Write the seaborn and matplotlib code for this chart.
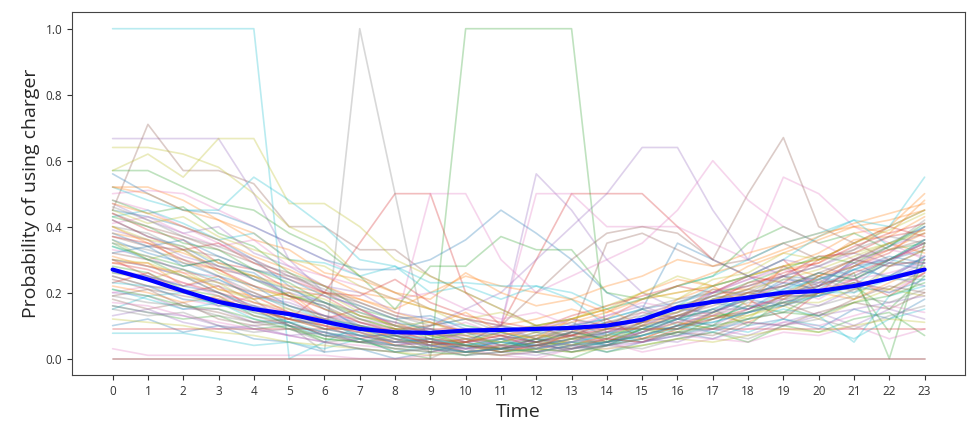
import numpy as np
import pandas as pd
import matplotlib
matplotlib.use("Agg")
import matplotlib.pyplot as plt
import seaborn as sns

# hours of the day
hours = list(range(24))

# per-charger hourly usage probability (a subset of the chargers)
c00 = [0.45,0.43,0.40,0.36,0.30,0.22,0.15,0.10,0.08,0.10,0.12,0.10,0.08,0.10,0.12,0.15,0.17,0.20,0.22,0.25,0.24,0.28,0.30,0.33]
c01 = [0.52,0.52,0.48,0.42,0.38,0.30,0.25,0.20,0.18,0.15,0.12,0.10,0.12,0.15,0.12,0.18,0.20,0.22,0.25,0.28,0.32,0.38,0.40,0.50]
c02 = [0.35,0.30,0.25,0.20,0.15,0.10,0.05,0.03,0.02,0.00,1.00,1.00,1.00,1.00,0.05,0.10,0.12,0.15,0.10,0.18,0.20,0.22,0.15,0.25]
c03 = [0.30,0.25,0.20,0.18,0.15,0.12,0.20,0.35,0.50,0.50,0.20,0.10,0.30,0.50,0.50,0.50,0.40,0.30,0.25,0.30,0.20,0.28,0.32,0.40]
c04 = [0.667,0.667,0.667,0.667,0.50,0.30,0.20,0.15,0.10,0.08,0.05,0.10,0.56,0.45,0.30,0.20,0.15,0.20,0.25,0.30,0.28,0.25,0.30,0.35]
c05 = [0.45,0.71,0.57,0.57,0.53,0.40,0.40,0.33,0.33,0.25,0.20,0.15,0.10,0.08,0.35,0.38,0.33,0.28,0.30,0.35,0.30,0.33,0.40,0.45]
c06 = [0.50,0.51,0.50,0.45,0.40,0.35,0.30,0.25,0.20,0.15,0.12,0.10,0.50,0.50,0.40,0.40,0.40,0.35,0.30,0.55,0.50,0.40,0.35,0.30]
c07 = [0.30,0.28,0.25,0.22,0.18,0.10,0.02,1.00,0.50,0.00,0.05,0.10,0.08,0.12,0.10,0.15,0.12,0.18,0.20,0.22,0.25,0.20,0.28,0.30]
c08 = [0.64,0.64,0.62,0.58,0.50,0.40,0.35,0.25,0.20,0.15,0.10,0.08,0.10,0.12,0.15,0.20,0.25,0.22,0.25,0.28,0.30,0.32,0.35,0.38]
c09 = [1.00,1.00,1.00,1.00,1.00,0.00,0.05,0.10,0.08,0.12,0.10,0.08,0.05,0.10,0.12,0.15,0.10,0.18,0.15,0.20,0.25,0.22,0.30,0.28]
c10 = [0.56,0.50,0.45,0.44,0.40,0.35,0.30,0.27,0.27,0.30,0.36,0.45,0.38,0.30,0.20,0.15,0.35,0.30,0.25,0.20,0.22,0.30,0.35,0.40]
c11 = [0.40,0.35,0.32,0.28,0.25,0.22,0.20,0.18,0.15,0.20,0.25,0.22,0.20,0.18,0.22,0.25,0.30,0.28,0.32,0.35,0.38,0.40,0.42,0.45]
c12 = [0.57,0.57,0.52,0.47,0.45,0.38,0.33,0.25,0.15,0.28,0.28,0.37,0.33,0.33,0.20,0.18,0.22,0.25,0.35,0.40,0.35,0.38,0.33,0.35]
c13 = [0.0] * 24
c14 = [0.30,0.28,0.25,0.20,0.15,0.10,0.08,0.05,0.05,0.10,0.15,0.20,0.30,0.40,0.50,0.64,0.64,0.45,0.30,0.25,0.20,0.22,0.25,0.30]
c15 = [0.25,0.22,0.20,0.18,0.15,0.12,0.10,0.08,0.05,0.05,0.08,0.10,0.20,0.30,0.38,0.40,0.38,0.30,0.50,0.67,0.40,0.35,0.30,0.35]
c16 = [0.48,0.45,0.40,0.35,0.30,0.25,0.20,0.15,0.10,0.50,0.50,0.30,0.20,0.25,0.30,0.35,0.45,0.60,0.48,0.40,0.35,0.30,0.28,0.30]
c17 = [0.35,0.33,0.30,0.25,0.20,0.15,0.12,0.10,0.08,0.05,0.05,0.08,0.10,0.12,0.10,0.15,0.18,0.20,0.20,0.25,0.22,0.25,0.30,0.35]
c18 = [0.57,0.62,0.55,0.667,0.667,0.47,0.47,0.40,0.30,0.25,0.20,0.15,0.10,0.12,0.15,0.18,0.20,0.22,0.25,0.28,0.30,0.35,0.40,0.45]
c19 = [0.52,0.48,0.45,0.45,0.55,0.48,0.40,0.30,0.28,0.23,0.23,0.22,0.22,0.20,0.15,0.18,0.22,0.25,0.30,0.35,0.38,0.42,0.40,0.55]
c20 = [0.42,0.37,0.34,0.28,0.26,0.19,0.16,0.09,0.06,0.04,0.02,0.06,0.07,0.11,0.07,0.13,0.14,0.19,0.18,0.24,0.23,0.29,0.24,0.31]
c21 = [0.38,0.36,0.29,0.27,0.21,0.19,0.11,0.09,0.04,0.05,0.02,0.03,0.02,0.06,0.07,0.11,0.14,0.21,0.21,0.27,0.29,0.36,0.37,0.43]
c22 = [0.28,0.26,0.21,0.19,0.13,0.11,0.07,0.06,0.02,0.03,0.01,0.04,0.04,0.05,0.05,0.09,0.09,0.13,0.14,0.19,0.19,0.26,0.00,0.35]
c23 = [0.44,0.39,0.36,0.29,0.27,0.21,0.19,0.13,0.11,0.07,0.07,0.04,0.07,0.07,0.11,0.11,0.16,0.17,0.23,0.25,0.31,0.32,0.37,0.39]
c24 = [0.20,0.19,0.15,0.15,0.11,0.11,0.07,0.07,0.04,0.05,0.03,0.06,0.05,0.08,0.07,0.11,0.11,0.15,0.15,0.19,0.19,0.23,0.24,0.29]
c25 = [0.37,0.34,0.33,0.27,0.25,0.19,0.16,0.11,0.09,0.05,0.06,0.03,0.06,0.05,0.09,0.09,0.13,0.14,0.19,0.19,0.23,0.24,0.29,0.29]
c26 = [0.33,0.31,0.26,0.25,0.19,0.18,0.13,0.12,0.08,0.08,0.05,0.06,0.05,0.08,0.08,0.12,0.12,0.17,0.18,0.23,0.24,0.29,0.30,0.35]
c27 = [0.25,0.22,0.21,0.16,0.16,0.12,0.11,0.07,0.07,0.04,0.06,0.05,0.08,0.07,0.10,0.09,0.13,0.13,0.17,0.17,0.21,0.21,0.25,0.25]
c28 = [0.30,0.29,0.25,0.23,0.17,0.15,0.09,0.09,0.05,0.05,0.02,0.04,0.03,0.06,0.05,0.09,0.09,0.13,0.13,0.17,0.17,0.21,0.21,0.26]
c29 = [0.15,0.19,0.20,0.16,0.16,0.11,0.11,0.07,0.07,0.04,0.05,0.02,0.05,0.04,0.08,0.08,0.12,0.12,0.16,0.16,0.20,0.20,0.24,0.24]
c30 = [0.10,0.12,0.08,0.10,0.06,0.05,0.02,0.03,0.00,0.02,0.05,0.03,0.06,0.04,0.02,0.05,0.08,0.06,0.10,0.12,0.09,0.15,0.12,0.18]
c31 = [0.29,0.29,0.22,0.25,0.18,0.20,0.12,0.15,0.09,0.10,0.14,0.08,0.06,0.12,0.15,0.10,0.18,0.22,0.16,0.28,0.25,0.30,0.35,0.32]
c32 = [0.48,0.44,0.46,0.38,0.34,0.26,0.22,0.15,0.12,0.08,0.04,0.06,0.02,0.00,0.04,0.08,0.12,0.10,0.18,0.22,0.26,0.24,0.30,0.36]
c33 = [0.23,0.26,0.20,0.22,0.15,0.12,0.10,0.06,0.08,0.04,0.05,0.07,0.03,0.08,0.12,0.06,0.10,0.14,0.18,0.12,0.20,0.24,0.19,0.26]
c34 = [0.47,0.42,0.38,0.40,0.32,0.28,0.22,0.20,0.14,0.12,0.08,0.10,0.06,0.09,0.13,0.16,0.12,0.20,0.24,0.28,0.22,0.30,0.34,0.38]
c35 = [0.18,0.15,0.17,0.12,0.10,0.11,0.07,0.05,0.06,0.02,0.04,0.03,0.06,0.10,0.05,0.08,0.11,0.09,0.14,0.17,0.13,0.18,0.22,0.20]
c36 = [0.03,0.01,0.01,0.01,0.01,0.01,0.01,0.00,0.00,0.01,0.02,0.01,0.00,0.03,0.05,0.02,0.04,0.06,0.05,0.08,0.07,0.10,0.06,0.09]
c37 = [0.40,0.38,0.33,0.31,0.27,0.25,0.22,0.17,0.13,0.10,0.12,0.08,0.10,0.06,0.04,0.08,0.12,0.15,0.20,0.18,0.24,0.28,0.34,0.42]
c38 = [0.36,0.30,0.33,0.26,0.22,0.18,0.20,0.14,0.10,0.11,0.07,0.05,0.08,0.04,0.07,0.10,0.08,0.14,0.12,0.20,0.24,0.18,0.28,0.33]
c39 = [0.077,0.077,0.077,0.06,0.04,0.05,0.03,0.06,0.02,0.04,0.03,0.05,0.04,0.06,0.08,0.05,0.07,0.10,0.08,0.12,0.10,0.06,0.12,0.15]
c40 = [0.32,0.34,0.28,0.30,0.24,0.21,0.17,0.14,0.11,0.09,0.06,0.08,0.05,0.07,0.04,0.09,0.13,0.17,0.15,0.21,0.26,0.24,0.29,0.27]
c41 = [0.52,0.50,0.45,0.42,0.36,0.33,0.26,0.24,0.20,0.18,0.26,0.20,0.16,0.18,0.14,0.20,0.24,0.22,0.28,0.32,0.36,0.40,0.38,0.48]
c42 = [0.16,0.14,0.12,0.13,0.09,0.10,0.06,0.05,0.07,0.03,0.04,0.02,0.03,0.05,0.02,0.04,0.06,0.08,0.05,0.10,0.08,0.12,0.14,0.07]
c43 = [0.42,0.37,0.33,0.35,0.29,0.24,0.20,0.19,0.24,0.17,0.13,0.11,0.09,0.13,0.16,0.19,0.22,0.20,0.25,0.23,0.30,0.35,0.40,0.37]
c44 = [0.13,0.15,0.11,0.09,0.10,0.07,0.08,0.05,0.04,0.06,0.02,0.03,0.05,0.02,0.04,0.06,0.05,0.09,0.07,0.11,0.14,0.10,0.15,0.12]
c45 = [0.44,0.40,0.37,0.33,0.29,0.26,0.20,0.17,0.13,0.11,0.08,0.06,0.09,0.07,0.11,0.14,0.12,0.18,0.21,0.19,0.25,0.30,0.33,0.36]
c46 = [0.20,0.22,0.18,0.16,0.19,0.14,0.12,0.15,0.10,0.08,0.11,0.07,0.09,0.12,0.08,0.14,0.16,0.13,0.19,0.22,0.18,0.24,0.20,0.26]
c47 = [0.0] * 24
c48 = [0.26,0.24,0.27,0.21,0.18,0.20,0.15,0.12,0.09,0.07,0.05,0.08,0.06,0.09,0.05,0.07,0.11,0.09,0.13,0.16,0.12,0.17,0.21,0.19]
c49 = [0.43,0.45,0.41,0.36,0.38,0.30,0.29,0.25,0.28,0.20,0.22,0.18,0.22,0.18,0.10,0.12,0.16,0.22,0.25,0.30,0.37,0.42,0.34,0.40]
c50 = [0.38,0.34,0.36,0.31,0.27,0.24,0.19,0.16,0.12,0.13,0.09,0.07,0.05,0.08,0.06,0.10,0.09,0.14,0.18,0.16,0.22,0.27,0.25,0.31]
c51 = [0.22,0.20,0.17,0.19,0.14,0.12,0.09,0.10,0.06,0.04,0.06,0.03,0.05,0.04,0.07,0.06,0.10,0.13,0.11,0.16,0.20,0.18,0.23,0.28]
c52 = [0.34,0.31,0.28,0.30,0.24,0.19,0.17,0.13,0.10,0.06,0.08,0.04,0.06,0.03,0.05,0.09,0.07,0.12,0.16,0.14,0.20,0.23,0.08,0.30]
c53 = [0.09] * 24
c54 = [0.27,0.25,0.22,0.24,0.19,0.17,0.13,0.11,0.08,0.09,0.05,0.06,0.04,0.07,0.05,0.08,0.12,0.10,0.15,0.18,0.16,0.21,0.25,0.22]
c55 = [0.19,0.21,0.16,0.14,0.11,0.12,0.09,0.07,0.05,0.06,0.03,0.04,0.02,0.04,0.06,0.05,0.08,0.07,0.11,0.10,0.14,0.17,0.15,0.20]
c56 = [0.41,0.43,0.38,0.34,0.36,0.28,0.25,0.22,0.18,0.20,0.15,0.12,0.14,0.10,0.13,0.17,0.15,0.20,0.24,0.27,0.23,0.29,0.33,0.31]
c57 = [0.15,0.13,0.14,0.10,0.08,0.09,0.05,0.06,0.03,0.04,0.02,0.03,0.05,0.02,0.04,0.03,0.06,0.08,0.06,0.10,0.12,0.09,0.13,0.16]
c58 = [0.45,0.41,0.43,0.37,0.33,0.30,0.28,0.22,0.18,0.15,0.12,0.14,0.10,0.12,0.16,0.20,0.18,0.24,0.26,0.32,0.30,0.35,0.39,0.44]
c59 = [0.21,0.18,0.15,0.17,0.12,0.10,0.07,0.08,0.05,0.06,0.04,0.05,0.03,0.05,0.04,0.07,0.10,0.08,0.12,0.15,0.13,0.05,0.19,0.22]
c60 = [0.36,0.32,0.29,0.25,0.22,0.16,0.13,0.09,0.06,0.05,0.03,0.05,0.04,0.06,0.09,0.12,0.15,0.14,0.19,0.23,0.21,0.27,0.31,0.29]
c61 = [0.31,0.28,0.26,0.21,0.19,0.14,0.10,0.08,0.04,0.03,0.05,0.02,0.04,0.07,0.06,0.10,0.13,0.17,0.20,0.18,0.25,0.28,0.33,0.38]
c62 = [0.43,0.40,0.35,0.33,0.27,0.23,0.17,0.12,0.09,0.07,0.04,0.03,0.05,0.08,0.06,0.11,0.16,0.19,0.23,0.27,0.31,0.29,0.34,0.41]
c63 = [0.29,0.27,0.23,0.20,0.17,0.14,0.12,0.09,0.07,0.05,0.04,0.02,0.04,0.03,0.06,0.05,0.09,0.12,0.15,0.19,0.22,0.26,0.30,0.34]
c64 = [0.39,0.36,0.31,0.28,0.24,0.20,0.17,0.12,0.10,0.08,0.06,0.04,0.03,0.05,0.08,0.10,0.14,0.17,0.21,0.25,0.28,0.32,0.29,0.36]
c65 = [0.24,0.21,0.19,0.17,0.13,0.10,0.08,0.06,0.04,0.03,0.02,0.03,0.02,0.04,0.05,0.07,0.10,0.12,0.14,0.17,0.20,0.23,0.21,0.27]
c66 = [0.17,0.16,0.13,0.11,0.09,0.07,0.05,0.04,0.03,0.02,0.03,0.01,0.02,0.04,0.03,0.05,0.07,0.06,0.09,0.11,0.10,0.13,0.16,0.14]
c67 = [0.46,0.42,0.37,0.34,0.30,0.25,0.21,0.16,0.12,0.09,0.07,0.09,0.06,0.08,0.11,0.13,0.17,0.21,0.19,0.25,0.28,0.33,0.37,0.35]
c68 = [0.12,0.11,0.10,0.08,0.07,0.05,0.04,0.03,0.02,0.01,0.02,0.01,0.03,0.02,0.03,0.04,0.06,0.05,0.07,0.09,0.08,0.10,0.12,0.11]
c69 = [0.34,0.30,0.27,0.24,0.19,0.16,0.12,0.10,0.07,0.06,0.04,0.06,0.03,0.05,0.07,0.09,0.12,0.15,0.18,0.21,0.24,0.27,0.30,0.36]
c70 = [0.26,0.25,0.22,0.20,0.16,0.13,0.09,0.07,0.05,0.04,0.02,0.03,0.04,0.03,0.05,0.07,0.10,0.11,0.14,0.16,0.19,0.22,0.20,0.24]
c71 = [0.47,0.44,0.40,0.36,0.31,0.27,0.22,0.18,0.14,0.11,0.08,0.07,0.09,0.11,0.14,0.18,0.22,0.26,0.29,0.33,0.37,0.41,0.44,0.47]
c72 = [0.21,0.19,0.16,0.15,0.12,0.09,0.06,0.05,0.03,0.02,0.01,0.02,0.03,0.02,0.04,0.06,0.08,0.10,0.12,0.14,0.13,0.17,0.19,0.23]
c73 = [0.37,0.35,0.30,0.27,0.22,0.19,0.15,0.11,0.08,0.06,0.05,0.07,0.05,0.07,0.09,0.12,0.15,0.19,0.22,0.26,0.29,0.34,0.38,0.41]
c74 = [0.16,0.14,0.13,0.10,0.09,0.07,0.05,0.03,0.02,0.03,0.01,0.02,0.01,0.03,0.04,0.05,0.07,0.09,0.11,0.10,0.13,0.15,0.17,0.19]
c75 = [0.32,0.30,0.27,0.23,0.20,0.16,0.13,0.10,0.07,0.05,0.04,0.03,0.04,0.06,0.08,0.11,0.13,0.16,0.20,0.22,0.26,0.30,0.28,0.33]
c76 = [0.27,0.24,0.23,0.19,0.16,0.14,0.10,0.08,0.05,0.04,0.03,0.04,0.03,0.05,0.06,0.08,0.11,0.13,0.16,0.18,0.21,0.24,0.26,0.29]
c77 = [0.19,0.17,0.16,0.13,0.11,0.09,0.07,0.05,0.04,0.03,0.02,0.01,0.02,0.03,0.04,0.06,0.08,0.09,0.12,0.14,0.16,0.19,0.17,0.21]
c78 = [0.40,0.36,0.34,0.29,0.25,0.21,0.18,0.13,0.10,0.08,0.06,0.05,0.07,0.06,0.09,0.12,0.14,0.18,0.21,0.24,0.27,0.31,0.35,0.39]
c79 = [0.23,0.22,0.18,0.17,0.14,0.11,0.08,0.06,0.04,0.03,0.02,0.03,0.02,0.04,0.05,0.07,0.09,0.11,0.14,0.17,0.19,0.22,0.25,0.27]

chargers = [c00, c01, c02, c03, c04, c05, c06, c07, c08, c09,
            c10, c11, c12, c13, c14, c15, c16, c17, c18, c19,
            c20, c21, c22, c23, c24, c25, c26, c27, c28, c29,
            c30, c31, c32, c33, c34, c35, c36, c37, c38, c39,
            c40, c41, c42, c43, c44, c45, c46, c47, c48, c49,
            c50, c51, c52, c53, c54, c55, c56, c57, c58, c59,
            c60, c61, c62, c63, c64, c65, c66, c67, c68, c69,
            c70, c71, c72, c73, c74, c75, c76, c77, c78, c79]

# average over all chargers (thick blue line)
mean_prob = [0.27,0.24,0.205,0.172,0.15,0.135,0.112,0.09,0.08,0.078,0.085,0.087,0.09,0.093,0.1,0.118,0.155,0.172,0.185,0.2,0.205,0.22,0.243,0.27]

# long format table for seaborn
rows = []
for i, vals in enumerate(chargers):
    for h, v in zip(hours, vals):
        rows.append((i, h, v))
df = pd.DataFrame(rows, columns=["charger", "hour", "prob"])
mean_df = pd.DataFrame({"hour": hours, "prob": mean_prob})

sns.set_style("ticks")
plt.rcParams['font.family'] = ['Open Sans', 'DejaVu Sans']

fig = plt.figure(figsize=(9.73, 4.21), dpi=100)
ax = fig.add_axes([0.074, 0.109, 0.918, 0.862])

tab10 = sns.color_palette("tab10")
pal = [tab10[i % 10] for i in range(len(chargers))]
sns.lineplot(data=df, x="hour", y="prob", hue="charger", palette=pal,
             alpha=0.3, linewidth=1.2, legend=False, ax=ax)
sns.lineplot(data=mean_df, x="hour", y="prob", color="blue", linewidth=3, ax=ax)

ax.set_xticks(hours)
ax.set_yticks([0.0, 0.2, 0.4, 0.6, 0.8, 1.0])
ax.set_yticklabels(["0.0", "0.2", "0.4", "0.6", "0.8", "1.0"])
ax.tick_params(labelsize=8.5, colors="#333333")
ax.set_xlabel("Time", fontsize=14)
ax.set_ylabel("Probability of using charger", fontsize=14)
for s in ax.spines.values():
    s.set_color("#444444")

fig.savefig("out.png", dpi=100)
